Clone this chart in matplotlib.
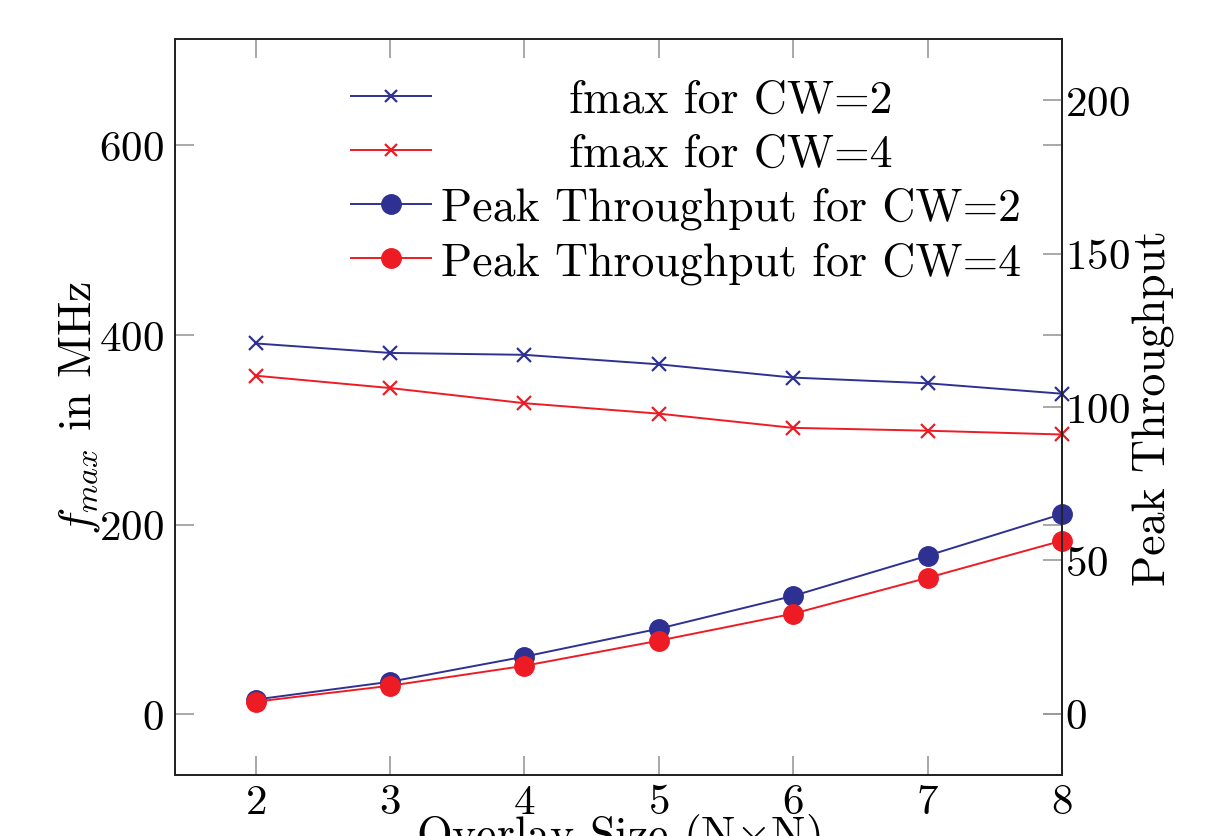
import numpy as np
import matplotlib
matplotlib.use("Agg")
import matplotlib.pyplot as plt

# data
overlay_size = [2, 3, 4, 5, 6, 7, 8]
fmax_cw2 = [391, 381, 379, 369, 355, 349, 338]
fmax_cw4 = [357, 344, 328, 317, 302, 299, 295]
peak_cw2 = [4.6, 10.4, 18.6, 27.7, 38.4, 51.5, 65.1]
peak_cw4 = [3.9, 9.1, 15.6, 23.8, 32.6, 44.3, 56.4]

left_ticks = [0, 200, 400, 600]
right_ticks = [0, 50, 100, 150, 200]

blue = '#2E3192'
red = '#ED1C24'

plt.rcParams['font.family'] = 'serif'
plt.rcParams['font.serif'] = ['cmr10']
plt.rcParams['mathtext.fontset'] = 'cm'
plt.rcParams['axes.formatter.use_mathtext'] = True
plt.rcParams['axes.unicode_minus'] = False

fig = plt.figure(figsize=(12.27, 8.37), dpi=100)
ax = fig.add_axes([0.1426, 0.0729, 0.8655 - 0.1426, 0.9522 - 0.0729])
ax2 = ax.twinx()

fs = 31
lfs = 33
l1, = ax.plot(overlay_size, fmax_cw2, color=blue, lw=1.4, marker='x', ms=10, mew=1.6,
              label='fmax for CW=2', clip_on=False)
l2, = ax.plot(overlay_size, fmax_cw4, color=red, lw=1.4, marker='x', ms=10, mew=1.6,
              label='fmax for CW=4', clip_on=False)
l3, = ax2.plot(overlay_size, peak_cw2, color=blue, lw=1.4, marker='o', ms=14,
               label='Peak Throughput for CW=2', clip_on=False)
l4, = ax2.plot(overlay_size, peak_cw4, color=red, lw=1.4, marker='o', ms=14,
               label='Peak Throughput for CW=4', clip_on=False)

ax.set_xlim(1.4, 8)
ax.set_ylim(-64, 712)
ax2.set_ylim(-20, 220)
ax.set_xticks(overlay_size)
ax.set_yticks(left_ticks)
ax2.set_yticks(right_ticks)

for a in (ax, ax2):
    for s in a.spines.values():
        s.set_linewidth(1.3)
        s.set_color('#222222')
ax.tick_params(axis='both', direction='in', length=14, width=1.2, color='#999999',
               labelsize=fs, top=True, right=True, pad=8)
ax.tick_params(axis='x', pad=6)
ax2.tick_params(axis='y', direction='in', length=14, width=1.2, color='#999999',
                labelsize=fs, pad=2)

ax.set_xlabel(r'Overlay Size (N$\times$N)', fontsize=lfs, labelpad=-7)
ax.set_ylabel(r'$f_{max}$ in MHz', fontsize=lfs, labelpad=-2)
ax2.set_ylabel('Peak Throughput', fontsize=lfs, labelpad=2)

leg = ax2.legend(handles=[l1, l2, l3, l4], loc='upper left', bbox_to_anchor=(0.178, 0.97),
                 frameon=False, fontsize=lfs, handlelength=1.75, handletextpad=0.2,
                 labelspacing=0.26, borderaxespad=0)
for h in leg.legend_handles[:2]:
    h.set_markersize(8)

# center the short labels within the text column
fig.canvas.draw()
r = fig.canvas.get_renderer()
texts = leg.get_texts()
widths = [t.get_window_extent(r).width for t in texts]
wmax = max(widths)
for t, w in zip(texts, widths):
    t.set_position(((wmax - w) / 2, 0))

fig.savefig('out.png', dpi=100)
